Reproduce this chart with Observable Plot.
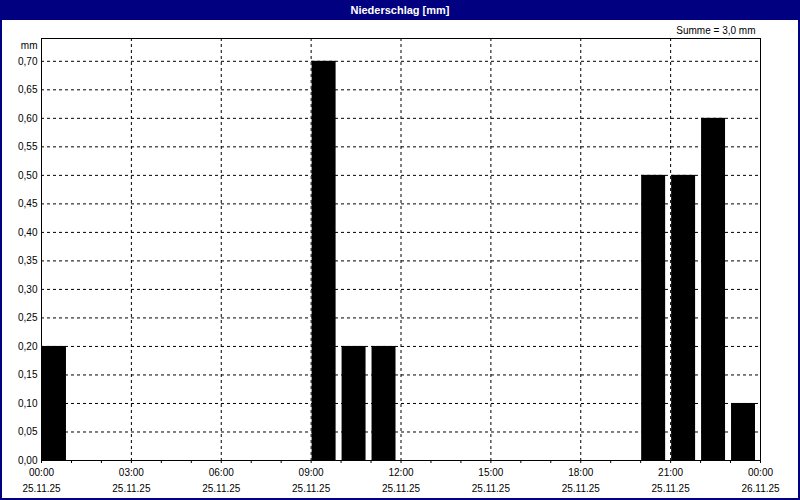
<!DOCTYPE html>
<html>
<head>
<meta charset="utf-8">
<script src="https://cdn.jsdelivr.net/npm/d3@7"></script>
<script src="https://cdn.jsdelivr.net/npm/@observablehq/plot@0.6"></script>
<style>
  html, body { margin: 0; padding: 0; background: #fff; }
  #wrap { position: relative; width: 800px; height: 500px; overflow: hidden; background: #fff; font-family: "Liberation Sans", Arial, sans-serif; }
  #title { position: absolute; left: 0; top: 0; width: 800px; height: 20px; background: #000080; color: #fff; font-size: 11px; font-weight: bold; text-align: center; line-height: 20px; z-index: 2; }
  #chart { position: absolute; left: 0; top: 20px; }
  #border { position: absolute; left: 0; top: 0; width: 800px; height: 500px; box-sizing: border-box; border: 2px solid #000080; border-top: none; pointer-events: none; z-index: 3; }
</style>
</head>
<body>
<div id="wrap">
  <div id="title">Niederschlag [mm]</div>
  <div id="chart"></div>
  <div id="border"></div>
</div>
<script>
// Data: hourly precipitation on 25.11.25 (hour of start, mm)
const hours  = [0, 9, 10, 11, 20, 21, 22, 23];
const values = [0.2, 0.7, 0.2, 0.2, 0.5, 0.5, 0.6, 0.1];

// Tick labels
const tickHours = [0, 3, 6, 9, 12, 15, 18, 21, 24];
const tickTimes = ["00:00", "03:00", "06:00", "09:00", "12:00", "15:00", "18:00", "21:00", "00:00"];
const tickDates = ["25.11.25", "25.11.25", "25.11.25", "25.11.25", "25.11.25", "25.11.25", "25.11.25", "25.11.25", "26.11.25"];
const yTicks = [0, 0.05, 0.10, 0.15, 0.20, 0.25, 0.30, 0.35, 0.40, 0.45, 0.50, 0.55, 0.60, 0.65, 0.70];
const minorHours = d3.range(0, 25);

const bars = hours.map((h, i) => ({h, v: values[i]}));
const xLabels = tickHours.map((h, i) => ({h, t: tickTimes[i], d: tickDates[i]}));
const fmt = v => v.toFixed(2).replace(".", ",");

const chart = Plot.plot({
  width: 800,
  height: 480,
  marginLeft: 41,
  marginRight: 40,
  marginTop: 18,
  marginBottom: 40,
  style: {fontFamily: "'Liberation Sans', Arial, sans-serif", fontSize: "10px", color: "#000", background: "transparent"},
  x: {type: "linear", domain: [0, 24]},
  y: {domain: [0, 0.74]},
  marks: [
    Plot.gridY(yTicks, {stroke: "#000", strokeOpacity: 1, strokeDasharray: "3,3"}),
    Plot.gridX(tickHours, {stroke: "#000", strokeOpacity: 1, strokeDasharray: "3,3"}),
    Plot.rectY(bars, {x1: "h", x2: d => d.h + 5 / 6, y: "v", fill: "#000", insetLeft: 1}),
    Plot.axisY(yTicks, {tickSize: 0, tickPadding: 4, tickFormat: fmt, label: null, fill: "#000"}),
    Plot.axisX(minorHours, {tickSize: 3, tickFormat: null, text: null, label: null, stroke: "#000"}),
    Plot.text(xLabels, {x: "h", text: "t", frameAnchor: "bottom", dy: 15, fill: "#000"}),
    Plot.text(xLabels, {x: "h", text: "d", frameAnchor: "bottom", dy: 31, fill: "#000"}),
    Plot.text(["mm"], {frameAnchor: "top-left", text: d => d, textAnchor: "end", dx: -4, dy: 3, fill: "#000"}),
    Plot.text(["Summe = 3,0 mm"], {frameAnchor: "top-right", text: d => d, textAnchor: "end", dx: -5, dy: -12, fill: "#000"}),
    Plot.frame({stroke: "#000"})
  ]
});
document.getElementById("chart").appendChild(chart);
</script>
</body>
</html>
